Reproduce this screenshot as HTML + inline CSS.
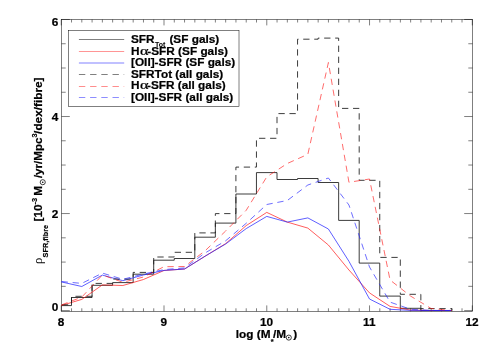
<!DOCTYPE html>
<html><head><meta charset="utf-8"><title>chart</title>
<style>html,body{margin:0;padding:0;background:#fff;}body{width:491px;height:350px;overflow:hidden;position:relative;font-family:"Liberation Sans",sans-serif;}</style>
</head><body>
<svg width="491" height="350" viewBox="0 0 491 350" style="position:absolute;left:0;top:0;will-change:transform">
<rect x="0" y="0" width="491" height="350" fill="#fff"/>
<g fill="none" stroke-width="1" stroke-linejoin="miter">
<rect x="61.5" y="19.5" width="411.0" height="291.80" stroke="#000" stroke-width="0.5"/>
<path d="M61.25,311.3v-5.9M61.25,19.5v5.9M71.53,311.3v-3.0M71.53,19.5v3.0M81.80,311.3v-3.0M81.80,19.5v3.0M92.08,311.3v-3.0M92.08,19.5v3.0M102.36,311.3v-3.0M102.36,19.5v3.0M112.63,311.3v-3.0M112.63,19.5v3.0M122.91,311.3v-3.0M122.91,19.5v3.0M133.18,311.3v-3.0M133.18,19.5v3.0M143.46,311.3v-3.0M143.46,19.5v3.0M153.74,311.3v-3.0M153.74,19.5v3.0M164.01,311.3v-5.9M164.01,19.5v5.9M174.29,311.3v-3.0M174.29,19.5v3.0M184.56,311.3v-3.0M184.56,19.5v3.0M194.84,311.3v-3.0M194.84,19.5v3.0M205.12,311.3v-3.0M205.12,19.5v3.0M215.39,311.3v-3.0M215.39,19.5v3.0M225.67,311.3v-3.0M225.67,19.5v3.0M235.95,311.3v-3.0M235.95,19.5v3.0M246.22,311.3v-3.0M246.22,19.5v3.0M256.50,311.3v-3.0M256.50,19.5v3.0M266.77,311.3v-5.9M266.77,19.5v5.9M277.05,311.3v-3.0M277.05,19.5v3.0M287.33,311.3v-3.0M287.33,19.5v3.0M297.60,311.3v-3.0M297.60,19.5v3.0M307.88,311.3v-3.0M307.88,19.5v3.0M318.16,311.3v-3.0M318.16,19.5v3.0M328.43,311.3v-3.0M328.43,19.5v3.0M338.71,311.3v-3.0M338.71,19.5v3.0M348.99,311.3v-3.0M348.99,19.5v3.0M359.26,311.3v-3.0M359.26,19.5v3.0M369.54,311.3v-5.9M369.54,19.5v5.9M379.81,311.3v-3.0M379.81,19.5v3.0M390.09,311.3v-3.0M390.09,19.5v3.0M400.37,311.3v-3.0M400.37,19.5v3.0M410.64,311.3v-3.0M410.64,19.5v3.0M420.92,311.3v-3.0M420.92,19.5v3.0M431.19,311.3v-3.0M431.19,19.5v3.0M441.47,311.3v-3.0M441.47,19.5v3.0M451.75,311.3v-3.0M451.75,19.5v3.0M462.02,311.3v-3.0M462.02,19.5v3.0M472.30,311.3v-5.9M472.30,19.5v5.9M61.5,310.60h8.3M472.5,310.60h-8.3M61.5,286.34h4.2M472.5,286.34h-4.2M61.5,262.08h4.2M472.5,262.08h-4.2M61.5,237.82h4.2M472.5,237.82h-4.2M61.5,213.56h8.3M472.5,213.56h-8.3M61.5,189.30h4.2M472.5,189.30h-4.2M61.5,165.04h4.2M472.5,165.04h-4.2M61.5,140.78h4.2M472.5,140.78h-4.2M61.5,116.52h8.3M472.5,116.52h-8.3M61.5,92.26h4.2M472.5,92.26h-4.2M61.5,68.00h4.2M472.5,68.00h-4.2M61.5,43.74h4.2M472.5,43.74h-4.2M61.5,19.48h8.3M472.5,19.48h-8.3" stroke="#000" stroke-width="0.5"/>
<path d="M61.50,305.60H71.50V297.50H92.05V285.30H112.60V282.60H133.15V274.20H153.70V260.20H174.25V258.50H194.80V237.20H215.35V223.10H235.90V194.00H256.45V172.60H277.00V179.50H297.55V178.50H318.10V182.50H338.65V220.40H359.20V263.10H379.75V296.10H400.30V308.30H420.85V310.50H441.40V310.50H451.95V310.5" stroke="#1a1a1a" stroke-width="0.85"/>
<path d="M61.25,305.50L81.80,299.40L102.35,284.90L122.90,285.50L143.45,279.50L164.00,270.50L184.55,269.00L205.10,256.20L225.65,243.60L246.20,225.60L266.75,212.40L287.30,222.10L307.85,228.10L328.40,245.00L348.95,270.00L369.50,292.90L390.05,306.40L410.60,310.10L431.15,310.50L451.70,310.50" stroke="#ff1010" stroke-width="0.68"/>
<path d="M61.25,281.90L81.80,286.50L102.35,275.10L122.90,280.70L143.45,275.00L164.00,270.40L184.55,269.00L205.10,256.20L225.65,244.00L246.20,228.60L266.75,216.40L287.30,222.10L307.85,217.90L328.40,229.00L348.95,261.30L369.50,299.00L390.05,309.30L410.60,310.40L431.15,310.50L451.70,310.50" stroke="#2020ff" stroke-width="0.72"/>
<path d="M61.50,304.80H71.50V296.30H92.05V283.40H112.60V279.10H133.15V272.40H153.70V257.00H174.25V252.30H194.80V232.90H215.35V213.60H235.90V167.10H256.45V138.30H277.00V113.60H297.55V39.20H318.10V38.10H338.65V108.40H359.20V180.30H379.75V257.40H400.30V294.30H420.85V308.60H441.40V308.60H451.95V310.5" stroke="#1a1a1a" stroke-width="0.85" stroke-dasharray="6.3 4.72" stroke-dashoffset="-0.4"/>
<path d="M61.25,305.00L81.80,297.10L102.35,275.00L122.90,282.30L143.45,277.00L164.00,266.70L184.55,266.50L205.10,250.80L225.65,231.00L246.20,210.30L266.75,176.90L287.30,163.50L307.85,154.30L328.40,62.50L348.95,182.30L369.50,179.00L390.05,280.00L410.60,296.10L431.15,308.50L451.70,310.50" stroke="#ff1010" stroke-width="0.62" stroke-dasharray="6.3 4.72" stroke-dashoffset="-0.4"/>
<path d="M61.25,281.50L81.80,283.40L102.35,273.10L122.90,279.30L143.45,274.00L164.00,269.60L184.55,267.90L205.10,253.00L225.65,240.80L246.20,223.30L266.75,204.50L287.30,200.50L307.85,185.00L328.40,178.00L348.95,205.00L369.50,267.00L390.05,302.10L410.60,309.30L431.15,310.40L451.70,310.50" stroke="#2020ff" stroke-width="0.66" stroke-dasharray="6.3 4.72" stroke-dashoffset="-0.4"/>
<!-- legend -->
<rect x="68.5" y="30.5" width="170.5" height="76" stroke="#000" stroke-width="0.5" fill="#fff"/>
<path d="M78.9,39.5H124.2" stroke="#000" stroke-width="0.5"/>
<path d="M78.9,51.5H124.2" stroke="#ff0000" stroke-width="0.42"/>
<path d="M78.9,63.0H124.2" stroke="#0000ff" stroke-width="0.5"/>
<path d="M78.9,74.5H124.2" stroke="#000" stroke-width="0.5" stroke-dasharray="6.4 4.8"/>
<path d="M78.9,86.5H124.2" stroke="#ff0000" stroke-width="0.45" stroke-dasharray="6.4 4.8"/>
<path d="M78.9,97.5H124.2" stroke="#0000ff" stroke-width="0.45" stroke-dasharray="6.4 4.8"/>
</g>
<g fill="#000" xml:space="preserve">
<text transform="translate(131,42.9) scale(1.0,1.0)" font-family="'Liberation Sans', sans-serif" font-weight="bold" font-size="11.8px" stroke="#000" stroke-width="0.22">SFR</text>
<text transform="translate(154.9,46.9) scale(1.0,1.0)" font-family="'Liberation Sans', sans-serif" font-weight="bold" font-size="7.0px" stroke="#000" stroke-width="0.05">Tot</text>
<text transform="translate(169.4,42.9) scale(1.0,1.0)" font-family="'Liberation Sans', sans-serif" font-weight="bold" font-size="11.8px" stroke="#000" stroke-width="0.22">(SF gals)</text>
<text transform="translate(131,54.5) scale(1.0,1.0)" font-family="'Liberation Sans', sans-serif" font-weight="bold" font-size="11.8px" stroke="#000" stroke-width="0.22">H</text>
<text transform="translate(140.0,54.5) scale(1.33,1.0)" font-family="'Liberation Serif', serif" font-weight="normal" font-size="12.3px" stroke="#000" stroke-width="0.2">α</text>
<text transform="translate(147.3,54.5) scale(1.0,1.0)" font-family="'Liberation Sans', sans-serif" font-weight="bold" font-size="11.8px" stroke="#000" stroke-width="0.22">-SFR (SF gals)</text>
<text transform="translate(131,66.0) scale(1.0,1.0)" font-family="'Liberation Sans', sans-serif" font-weight="bold" font-size="11.8px" stroke="#000" stroke-width="0.22">[OII]-SFR (SF gals)</text>
<text transform="translate(131,77.69999999999999) scale(1.0,1.0)" font-family="'Liberation Sans', sans-serif" font-weight="bold" font-size="11.8px" stroke="#000" stroke-width="0.22">SFRTot (all gals)</text>
<text transform="translate(131,89.39999999999999) scale(1.0,1.0)" font-family="'Liberation Sans', sans-serif" font-weight="bold" font-size="11.8px" stroke="#000" stroke-width="0.22">H</text>
<text transform="translate(140.0,89.39999999999999) scale(1.33,1.0)" font-family="'Liberation Serif', serif" font-weight="normal" font-size="12.3px" stroke="#000" stroke-width="0.2">α</text>
<text transform="translate(147.0,89.39999999999999) scale(1.0,1.0)" font-family="'Liberation Sans', sans-serif" font-weight="bold" font-size="11.8px" stroke="#000" stroke-width="0.22">-SFR (all gals)</text>
<text transform="translate(131,100.89999999999999) scale(1.0,1.0)" font-family="'Liberation Sans', sans-serif" font-weight="bold" font-size="11.8px" stroke="#000" stroke-width="0.22">[OII]-SFR (all gals)</text>
<text transform="translate(61.0,325.5) scale(1.0,1.0)" font-family="'Liberation Sans', sans-serif" font-weight="bold" font-size="11.8px" text-anchor="middle" stroke="#000" stroke-width="0.22">8</text>
<text transform="translate(163.75,325.5) scale(1.0,1.0)" font-family="'Liberation Sans', sans-serif" font-weight="bold" font-size="11.8px" text-anchor="middle" stroke="#000" stroke-width="0.22">9</text>
<text transform="translate(266.5,325.5) scale(1.0,1.0)" font-family="'Liberation Sans', sans-serif" font-weight="bold" font-size="11.8px" text-anchor="middle" stroke="#000" stroke-width="0.22">10</text>
<text transform="translate(369.25,325.5) scale(1.0,1.0)" font-family="'Liberation Sans', sans-serif" font-weight="bold" font-size="11.8px" text-anchor="middle" stroke="#000" stroke-width="0.22">11</text>
<text transform="translate(472.0,325.5) scale(1.0,1.0)" font-family="'Liberation Sans', sans-serif" font-weight="bold" font-size="11.8px" text-anchor="middle" stroke="#000" stroke-width="0.22">12</text>
<text transform="translate(58.2,25.8) scale(1.0,1.0)" font-family="'Liberation Sans', sans-serif" font-weight="bold" font-size="11.8px" text-anchor="end" stroke="#000" stroke-width="0.22">6</text>
<text transform="translate(58.2,120.8) scale(1.0,1.0)" font-family="'Liberation Sans', sans-serif" font-weight="bold" font-size="11.8px" text-anchor="end" stroke="#000" stroke-width="0.22">4</text>
<text transform="translate(58.2,217.7) scale(1.0,1.0)" font-family="'Liberation Sans', sans-serif" font-weight="bold" font-size="11.8px" text-anchor="end" stroke="#000" stroke-width="0.22">2</text>
<text transform="translate(58.2,311.4) scale(1.0,1.0)" font-family="'Liberation Sans', sans-serif" font-weight="bold" font-size="11.8px" text-anchor="end" stroke="#000" stroke-width="0.22">0</text>
<text transform="translate(235.8,338.2) scale(1.0,1.0)" font-family="'Liberation Sans', sans-serif" font-weight="bold" font-size="11.8px" stroke="#000" stroke-width="0.22">log (M</text>
<text transform="translate(270.8,343.5) scale(1.0,1.0)" font-family="'Liberation Sans', sans-serif" font-weight="bold" font-size="7.3px" stroke="#000" stroke-width="0.2">*</text>
<text transform="translate(272.9,338.2) scale(1.0,1.0)" font-family="'Liberation Sans', sans-serif" font-weight="bold" font-size="11.8px" stroke="#000" stroke-width="0.22">/M</text>
<circle cx="288.8" cy="337.6" r="2.55" fill="none" stroke="#000" stroke-width="0.75"/><circle cx="288.8" cy="337.6" r="0.8"/>
<text transform="translate(293.3,338.2) scale(1.0,1.0)" font-family="'Liberation Sans', sans-serif" font-weight="bold" font-size="11.8px" stroke="#000" stroke-width="0.22">)</text>
<g transform="translate(42.35,263.6) rotate(-90)">
<text transform="translate(-0.3,0) scale(1.0,1.0)" font-family="'Liberation Serif', serif" font-weight="normal" font-size="12.6px">ρ</text>
<text transform="translate(6.2,5.3) scale(1.0,1.0)" font-family="'Liberation Sans', sans-serif" font-weight="bold" font-size="7.3px" stroke="#000" stroke-width="0.2">SFR,fibre</text>
<text transform="translate(42.1,0) scale(1.0,1.0)" font-family="'Liberation Sans', sans-serif" font-weight="bold" font-size="11.8px" stroke="#000" stroke-width="0.22">[10</text>
<text transform="translate(59.2,-5.8) scale(1.0,1.0)" font-family="'Liberation Sans', sans-serif" font-weight="bold" font-size="7.3px" stroke="#000" stroke-width="0.2">-3</text>
<text transform="translate(67.9,0) scale(1.0,1.0)" font-family="'Liberation Sans', sans-serif" font-weight="bold" font-size="11.8px" stroke="#000" stroke-width="0.22">M</text>
<circle cx="81.4" cy="0.4" r="2.55" fill="none" stroke="#000" stroke-width="0.75"/><circle cx="81.4" cy="0.4" r="0.8"/>
<text transform="translate(85.5,0) scale(1.0,1.0)" font-family="'Liberation Sans', sans-serif" font-weight="bold" font-size="11.8px" stroke="#000" stroke-width="0.22" textLength="40.6" lengthAdjust="spacingAndGlyphs">/yr/Mpc</text>
<text transform="translate(126.2,-5.6) scale(1.0,1.0)" font-family="'Liberation Sans', sans-serif" font-weight="bold" font-size="7.3px" stroke="#000" stroke-width="0.2">3</text>
<text transform="translate(129.7,0) scale(1.0,1.0)" font-family="'Liberation Sans', sans-serif" font-weight="bold" font-size="11.8px" stroke="#000" stroke-width="0.22">/dex/fibre]</text>
</g>
</g>
</svg>
</body></html>
